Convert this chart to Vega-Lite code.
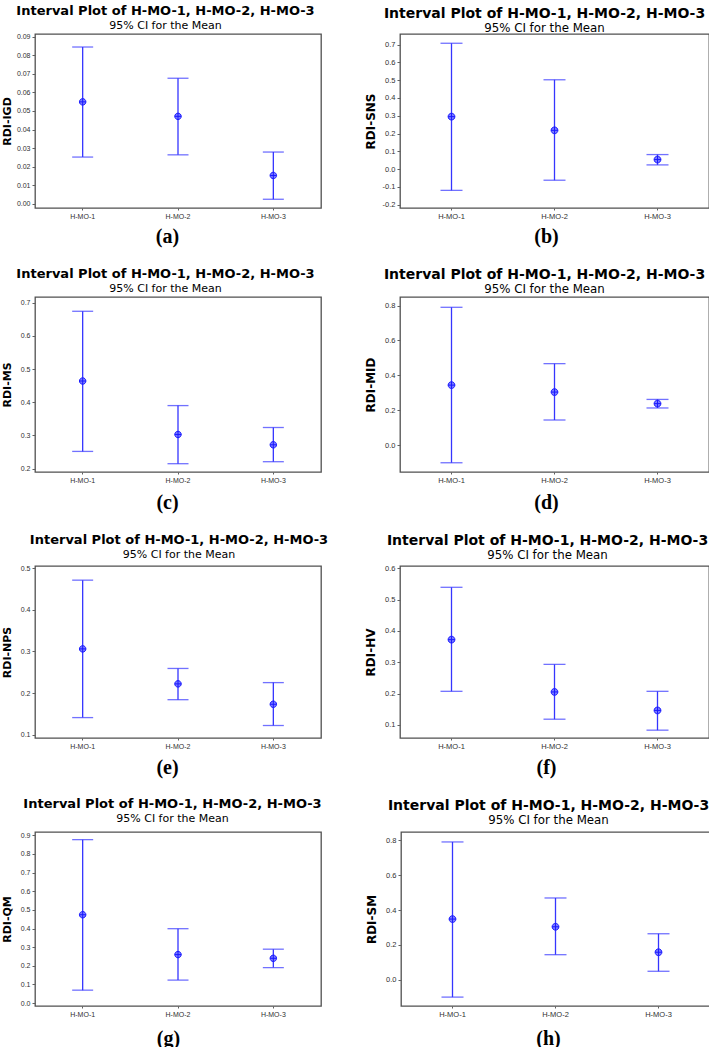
{
  "$schema": "https://vega.github.io/schema/vega-lite/v6.json",
  "padding": {"left": 0, "top": 4, "right": 0, "bottom": 0},
  "background": "white",
  "datasets": {
    "ci": [
      {"panel": "a", "group": "H-MO-1", "lower": 0.0252, "mean": 0.0549, "upper": 0.0844},
      {"panel": "a", "group": "H-MO-2", "lower": 0.0264, "mean": 0.0471, "upper": 0.0676},
      {"panel": "a", "group": "H-MO-3", "lower": 0.0025, "mean": 0.0153, "upper": 0.0279},
      {"panel": "b", "group": "H-MO-1", "lower": -0.119, "mean": 0.295, "upper": 0.707},
      {"panel": "b", "group": "H-MO-2", "lower": -0.062, "mean": 0.218, "upper": 0.502},
      {"panel": "b", "group": "H-MO-3", "lower": 0.024, "mean": 0.054, "upper": 0.082},
      {"panel": "c", "group": "H-MO-1", "lower": 0.252, "mean": 0.464, "upper": 0.674},
      {"panel": "c", "group": "H-MO-2", "lower": 0.215, "mean": 0.303, "upper": 0.390},
      {"panel": "c", "group": "H-MO-3", "lower": 0.221, "mean": 0.272, "upper": 0.324},
      {"panel": "d", "group": "H-MO-1", "lower": -0.101, "mean": 0.344, "upper": 0.790},
      {"panel": "d", "group": "H-MO-2", "lower": 0.144, "mean": 0.304, "upper": 0.467},
      {"panel": "d", "group": "H-MO-3", "lower": 0.213, "mean": 0.238, "upper": 0.262},
      {"panel": "e", "group": "H-MO-1", "lower": 0.141, "mean": 0.306, "upper": 0.471},
      {"panel": "e", "group": "H-MO-2", "lower": 0.184, "mean": 0.222, "upper": 0.259},
      {"panel": "e", "group": "H-MO-3", "lower": 0.122, "mean": 0.173, "upper": 0.225},
      {"panel": "f", "group": "H-MO-1", "lower": 0.207, "mean": 0.372, "upper": 0.539},
      {"panel": "f", "group": "H-MO-2", "lower": 0.118, "mean": 0.205, "upper": 0.293},
      {"panel": "f", "group": "H-MO-3", "lower": 0.083, "mean": 0.146, "upper": 0.207},
      {"panel": "g", "group": "H-MO-1", "lower": 0.069, "mean": 0.474, "upper": 0.877},
      {"panel": "g", "group": "H-MO-2", "lower": 0.123, "mean": 0.260, "upper": 0.399},
      {"panel": "g", "group": "H-MO-3", "lower": 0.190, "mean": 0.240, "upper": 0.289},
      {"panel": "h", "group": "H-MO-1", "lower": -0.099, "mean": 0.348, "upper": 0.790},
      {"panel": "h", "group": "H-MO-2", "lower": 0.144, "mean": 0.304, "upper": 0.469},
      {"panel": "h", "group": "H-MO-3", "lower": 0.049, "mean": 0.158, "upper": 0.264}
    ]
  },
  "spacing": 18,
  "vconcat": [
    {
      "spacing": 41,
      "hconcat": [
        {
          "width": 286, "height": 174,
          "title": {"text": "Interval Plot of H-MO-1, H-MO-2, H-MO-3", "subtitle": "95% CI for the Mean", "dx": -12.5, "offset": 1.5},
          "data": {"name": "ci"},
          "transform": [{"filter": "datum.panel == 'a'"}],
          "encoding": {"x": {"field": "group", "type": "nominal", "scale": {"paddingInner": 0, "paddingOuter": 0}, "axis": {"title": "(a)", "titleX": 132, "titlePadding": 7}}},
          "layer": [
            {"mark": {"type": "rule", "color": "#3535ff", "strokeWidth": 1.3}, "encoding": {"y": {"field": "lower", "type": "quantitative", "title": "RDI-IGD", "scale": {"domain": [-0.0022, 0.0914], "nice": false, "zero": false}, "axis": {"values": [0, 0.01, 0.02, 0.03, 0.04, 0.05, 0.06, 0.07, 0.08, 0.09], "tickCount": 50, "labelExpr": "replace(format(datum.value, '.2f'), '\u2212', '-')"}}, "y2": {"field": "upper"}}},
            {"mark": {"type": "tick", "color": "#3535ff", "size": 21, "thickness": 1.3}, "encoding": {"y": {"field": "lower", "type": "quantitative", "title": "RDI-IGD"}}},
            {"mark": {"type": "tick", "color": "#3535ff", "size": 21, "thickness": 1.3}, "encoding": {"y": {"field": "upper", "type": "quantitative", "title": "RDI-IGD"}}},
            {"mark": {"type": "point", "shape": "M-1,0A1,1,0,1,0,1,0A1,1,0,1,0,-1,0ZM-1,0L1,0M0,-1L0,1", "size": 42, "fill": "#7a7aff", "fillOpacity": 1, "stroke": "#1a1aff", "strokeWidth": 1, "opacity": 1}, "encoding": {"y": {"field": "mean", "type": "quantitative", "title": "RDI-IGD"}}}
          ]
        },
        {
          "width": 309, "height": 174,
          "title": {"text": "Interval Plot of H-MO-1, H-MO-2, H-MO-3", "subtitle": "95% CI for the Mean", "dx": -10, "offset": -0.5, "fontSize": 14, "subtitleFontSize": 11.8},
          "data": {"name": "ci"},
          "transform": [{"filter": "datum.panel == 'b'"}],
          "encoding": {"x": {"field": "group", "type": "nominal", "scale": {"paddingInner": 0, "paddingOuter": 0}, "axis": {"title": "(b)", "titleX": 146, "titlePadding": 7, "labelFontSize": 7.5}}},
          "layer": [
            {"mark": {"type": "rule", "color": "#3535ff", "strokeWidth": 1.3}, "encoding": {"y": {"field": "lower", "type": "quantitative", "title": "RDI-SNS", "scale": {"domain": [-0.218, 0.759], "nice": false, "zero": false}, "axis": {"values": [-0.2, -0.1, 0, 0.1, 0.2, 0.3, 0.4, 0.5, 0.6, 0.7], "tickCount": 50, "labelExpr": "replace(format(datum.value, '.1f'), '\u2212', '-')", "titleFontSize": 12, "labelFontSize": 7.5}}, "y2": {"field": "upper"}}},
            {"mark": {"type": "tick", "color": "#3535ff", "size": 22, "thickness": 1.3}, "encoding": {"y": {"field": "lower", "type": "quantitative", "title": "RDI-SNS"}}},
            {"mark": {"type": "tick", "color": "#3535ff", "size": 22, "thickness": 1.3}, "encoding": {"y": {"field": "upper", "type": "quantitative", "title": "RDI-SNS"}}},
            {"mark": {"type": "point", "shape": "M-1,0A1,1,0,1,0,1,0A1,1,0,1,0,-1,0ZM-1,0L1,0M0,-1L0,1", "size": 46, "fill": "#7a7aff", "fillOpacity": 1, "stroke": "#1a1aff", "strokeWidth": 1, "opacity": 1}, "encoding": {"y": {"field": "mean", "type": "quantitative", "title": "RDI-SNS"}}}
          ]
        }
      ]
    },
    {
      "spacing": 41,
      "hconcat": [
        {
          "width": 286, "height": 175,
          "title": {"text": "Interval Plot of H-MO-1, H-MO-2, H-MO-3", "subtitle": "95% CI for the Mean", "dx": -12.5, "offset": 3.5},
          "data": {"name": "ci"},
          "transform": [{"filter": "datum.panel == 'c'"}],
          "encoding": {"x": {"field": "group", "type": "nominal", "scale": {"paddingInner": 0, "paddingOuter": 0}, "axis": {"title": "(c)", "titleX": 132, "titlePadding": 9}}},
          "layer": [
            {"mark": {"type": "rule", "color": "#3535ff", "strokeWidth": 1.3}, "encoding": {"y": {"field": "lower", "type": "quantitative", "title": "RDI-MS", "scale": {"domain": [0.19, 0.717], "nice": false, "zero": false}, "axis": {"values": [0.2, 0.3, 0.4, 0.5, 0.6, 0.7], "tickCount": 50, "labelExpr": "replace(format(datum.value, '.1f'), '\u2212', '-')"}}, "y2": {"field": "upper"}}},
            {"mark": {"type": "tick", "color": "#3535ff", "size": 21, "thickness": 1.3}, "encoding": {"y": {"field": "lower", "type": "quantitative", "title": "RDI-MS"}}},
            {"mark": {"type": "tick", "color": "#3535ff", "size": 21, "thickness": 1.3}, "encoding": {"y": {"field": "upper", "type": "quantitative", "title": "RDI-MS"}}},
            {"mark": {"type": "point", "shape": "M-1,0A1,1,0,1,0,1,0A1,1,0,1,0,-1,0ZM-1,0L1,0M0,-1L0,1", "size": 42, "fill": "#7a7aff", "fillOpacity": 1, "stroke": "#1a1aff", "strokeWidth": 1, "opacity": 1}, "encoding": {"y": {"field": "mean", "type": "quantitative", "title": "RDI-MS"}}}
          ]
        },
        {
          "width": 309, "height": 175,
          "title": {"text": "Interval Plot of H-MO-1, H-MO-2, H-MO-3", "subtitle": "95% CI for the Mean", "dx": -10, "offset": 1.5, "fontSize": 14, "subtitleFontSize": 11.8},
          "data": {"name": "ci"},
          "transform": [{"filter": "datum.panel == 'd'"}],
          "encoding": {"x": {"field": "group", "type": "nominal", "scale": {"paddingInner": 0, "paddingOuter": 0}, "axis": {"title": "(d)", "titleX": 146, "titlePadding": 9, "labelFontSize": 7.5}}},
          "layer": [
            {"mark": {"type": "rule", "color": "#3535ff", "strokeWidth": 1.3}, "encoding": {"y": {"field": "lower", "type": "quantitative", "title": "RDI-MID", "scale": {"domain": [-0.154, 0.849], "nice": false, "zero": false}, "axis": {"values": [0, 0.2, 0.4, 0.6, 0.8], "tickCount": 50, "labelExpr": "replace(format(datum.value, '.1f'), '\u2212', '-')", "titleFontSize": 12, "labelFontSize": 7.5}}, "y2": {"field": "upper"}}},
            {"mark": {"type": "tick", "color": "#3535ff", "size": 22, "thickness": 1.3}, "encoding": {"y": {"field": "lower", "type": "quantitative", "title": "RDI-MID"}}},
            {"mark": {"type": "tick", "color": "#3535ff", "size": 22, "thickness": 1.3}, "encoding": {"y": {"field": "upper", "type": "quantitative", "title": "RDI-MID"}}},
            {"mark": {"type": "point", "shape": "M-1,0A1,1,0,1,0,1,0A1,1,0,1,0,-1,0ZM-1,0L1,0M0,-1L0,1", "size": 46, "fill": "#7a7aff", "fillOpacity": 1, "stroke": "#1a1aff", "strokeWidth": 1, "opacity": 1}, "encoding": {"y": {"field": "mean", "type": "quantitative", "title": "RDI-MID"}}}
          ]
        }
      ]
    },
    {
      "spacing": 34,
      "hconcat": [
        {
          "width": 286, "height": 172,
          "title": {"text": "Interval Plot of H-MO-1, H-MO-2, H-MO-3", "subtitle": "95% CI for the Mean", "dx": 1, "offset": 4.5},
          "data": {"name": "ci"},
          "transform": [{"filter": "datum.panel == 'e'"}],
          "encoding": {"x": {"field": "group", "type": "nominal", "scale": {"paddingInner": 0, "paddingOuter": 0}, "axis": {"title": "(e)", "titleX": 132, "titlePadding": 8}}},
          "layer": [
            {"mark": {"type": "rule", "color": "#3535ff", "strokeWidth": 1.3}, "encoding": {"y": {"field": "lower", "type": "quantitative", "title": "RDI-NPS", "scale": {"domain": [0.092, 0.505], "nice": false, "zero": false}, "axis": {"values": [0.1, 0.2, 0.3, 0.4, 0.5], "tickCount": 50, "labelExpr": "replace(format(datum.value, '.1f'), '\u2212', '-')"}}, "y2": {"field": "upper"}}},
            {"mark": {"type": "tick", "color": "#3535ff", "size": 21, "thickness": 1.3}, "encoding": {"y": {"field": "lower", "type": "quantitative", "title": "RDI-NPS"}}},
            {"mark": {"type": "tick", "color": "#3535ff", "size": 21, "thickness": 1.3}, "encoding": {"y": {"field": "upper", "type": "quantitative", "title": "RDI-NPS"}}},
            {"mark": {"type": "point", "shape": "M-1,0A1,1,0,1,0,1,0A1,1,0,1,0,-1,0ZM-1,0L1,0M0,-1L0,1", "size": 42, "fill": "#7a7aff", "fillOpacity": 1, "stroke": "#1a1aff", "strokeWidth": 1, "opacity": 1}, "encoding": {"y": {"field": "mean", "type": "quantitative", "title": "RDI-NPS"}}}
          ]
        },
        {
          "width": 309, "height": 172,
          "title": {"text": "Interval Plot of H-MO-1, H-MO-2, H-MO-3", "subtitle": "95% CI for the Mean", "dx": -7, "offset": 2.5, "fontSize": 14, "subtitleFontSize": 11.8},
          "data": {"name": "ci"},
          "transform": [{"filter": "datum.panel == 'f'"}],
          "encoding": {"x": {"field": "group", "type": "nominal", "scale": {"paddingInner": 0, "paddingOuter": 0}, "axis": {"title": "(f)", "titleX": 146, "titlePadding": 8, "labelFontSize": 7.5}}},
          "layer": [
            {"mark": {"type": "rule", "color": "#3535ff", "strokeWidth": 1.3}, "encoding": {"y": {"field": "lower", "type": "quantitative", "title": "RDI-HV", "scale": {"domain": [0.058, 0.607], "nice": false, "zero": false}, "axis": {"values": [0.1, 0.2, 0.3, 0.4, 0.5, 0.6], "tickCount": 50, "labelExpr": "replace(format(datum.value, '.1f'), '\u2212', '-')", "titleFontSize": 12, "labelFontSize": 7.5}}, "y2": {"field": "upper"}}},
            {"mark": {"type": "tick", "color": "#3535ff", "size": 22, "thickness": 1.3}, "encoding": {"y": {"field": "lower", "type": "quantitative", "title": "RDI-HV"}}},
            {"mark": {"type": "tick", "color": "#3535ff", "size": 22, "thickness": 1.3}, "encoding": {"y": {"field": "upper", "type": "quantitative", "title": "RDI-HV"}}},
            {"mark": {"type": "point", "shape": "M-1,0A1,1,0,1,0,1,0A1,1,0,1,0,-1,0ZM-1,0L1,0M0,-1L0,1", "size": 46, "fill": "#7a7aff", "fillOpacity": 1, "stroke": "#1a1aff", "strokeWidth": 1, "opacity": 1}, "encoding": {"y": {"field": "mean", "type": "quantitative", "title": "RDI-HV"}}}
          ]
        }
      ]
    },
    {
      "spacing": 41,
      "hconcat": [
        {
          "width": 286, "height": 174,
          "title": {"text": "Interval Plot of H-MO-1, H-MO-2, H-MO-3", "subtitle": "95% CI for the Mean", "dx": -5.5, "offset": 7},
          "data": {"name": "ci"},
          "transform": [{"filter": "datum.panel == 'g'"}],
          "encoding": {"x": {"field": "group", "type": "nominal", "scale": {"paddingInner": 0, "paddingOuter": 0}, "axis": {"title": "(g)", "titleX": 133, "titlePadding": 11}}},
          "layer": [
            {"mark": {"type": "rule", "color": "#3535ff", "strokeWidth": 1.3}, "encoding": {"y": {"field": "lower", "type": "quantitative", "title": "RDI-QM", "scale": {"domain": [-0.016, 0.918], "nice": false, "zero": false}, "axis": {"values": [0, 0.1, 0.2, 0.3, 0.4, 0.5, 0.6, 0.7, 0.8, 0.9], "tickCount": 50, "labelExpr": "replace(format(datum.value, '.1f'), '\u2212', '-')"}}, "y2": {"field": "upper"}}},
            {"mark": {"type": "tick", "color": "#3535ff", "size": 21, "thickness": 1.3}, "encoding": {"y": {"field": "lower", "type": "quantitative", "title": "RDI-QM"}}},
            {"mark": {"type": "tick", "color": "#3535ff", "size": 21, "thickness": 1.3}, "encoding": {"y": {"field": "upper", "type": "quantitative", "title": "RDI-QM"}}},
            {"mark": {"type": "point", "shape": "M-1,0A1,1,0,1,0,1,0A1,1,0,1,0,-1,0ZM-1,0L1,0M0,-1L0,1", "size": 42, "fill": "#7a7aff", "fillOpacity": 1, "stroke": "#1a1aff", "strokeWidth": 1, "opacity": 1}, "encoding": {"y": {"field": "mean", "type": "quantitative", "title": "RDI-QM"}}}
          ]
        },
        {
          "width": 309, "height": 174,
          "title": {"text": "Interval Plot of H-MO-1, H-MO-2, H-MO-3", "subtitle": "95% CI for the Mean", "dx": -7, "offset": 5, "fontSize": 14, "subtitleFontSize": 11.8},
          "data": {"name": "ci"},
          "transform": [{"filter": "datum.panel == 'h'"}],
          "encoding": {"x": {"field": "group", "type": "nominal", "scale": {"paddingInner": 0, "paddingOuter": 0}, "axis": {"title": "(h)", "titleX": 147, "titlePadding": 11, "labelFontSize": 7.5}}},
          "layer": [
            {"mark": {"type": "rule", "color": "#3535ff", "strokeWidth": 1.3}, "encoding": {"y": {"field": "lower", "type": "quantitative", "title": "RDI-SM", "scale": {"domain": [-0.15, 0.847], "nice": false, "zero": false}, "axis": {"values": [0, 0.2, 0.4, 0.6, 0.8], "tickCount": 50, "labelExpr": "replace(format(datum.value, '.1f'), '\u2212', '-')", "titleFontSize": 12, "labelFontSize": 7.5}}, "y2": {"field": "upper"}}},
            {"mark": {"type": "tick", "color": "#3535ff", "size": 22, "thickness": 1.3}, "encoding": {"y": {"field": "lower", "type": "quantitative", "title": "RDI-SM"}}},
            {"mark": {"type": "tick", "color": "#3535ff", "size": 22, "thickness": 1.3}, "encoding": {"y": {"field": "upper", "type": "quantitative", "title": "RDI-SM"}}},
            {"mark": {"type": "point", "shape": "M-1,0A1,1,0,1,0,1,0A1,1,0,1,0,-1,0ZM-1,0L1,0M0,-1L0,1", "size": 46, "fill": "#7a7aff", "fillOpacity": 1, "stroke": "#1a1aff", "strokeWidth": 1, "opacity": 1}, "encoding": {"y": {"field": "mean", "type": "quantitative", "title": "RDI-SM"}}}
          ]
        }
      ]
    }
  ],
  "config": {
    "font": "DejaVu Sans",
    "view": {"stroke": "#505050", "strokeWidth": 1.3},
    "axis": {"grid": false, "domain": false, "tickColor": "#606060", "tickSize": 3, "labelFont": "Liberation Sans", "labelFontSize": 7, "labelColor": "#303030", "labelOverlap": false},
    "axisY": {"minExtent": 18, "maxExtent": 18, "titleFont": "DejaVu Sans", "titleFontSize": 11, "titleFontWeight": "bold", "titleColor": "#000000", "titlePadding": 5, "labelPadding": 2},
    "axisX": {"labelAngle": 0, "labelPadding": 2, "tickSize": 2, "titleFont": "Liberation Serif", "titleFontSize": 20, "titleFontWeight": "bold", "titleColor": "#000000", "titlePadding": 7},
    "title": {"font": "DejaVu Sans", "fontSize": 13, "fontWeight": "bold", "color": "#000000", "subtitleFont": "DejaVu Sans", "subtitleFontSize": 11, "subtitleColor": "#000000", "subtitlePadding": 2, "offset": 5, "anchor": "middle", "frame": "group"}
  }
}
